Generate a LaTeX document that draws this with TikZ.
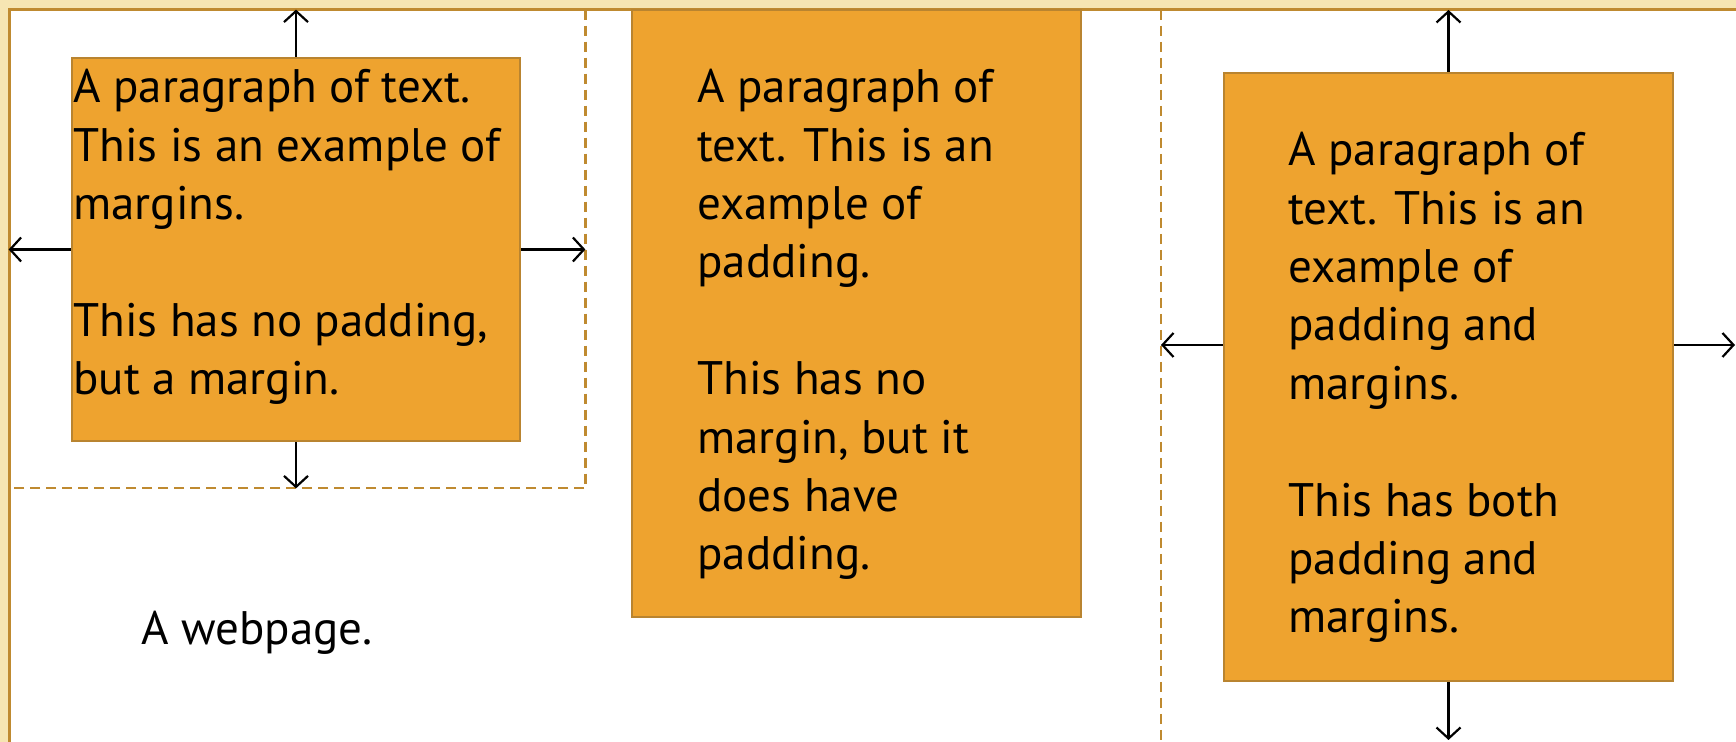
\documentclass[tikz,border=0pt]{standalone}
\usepackage{fontspec}
\setmainfont{PT Sans}
\usetikzlibrary{arrows.meta,fit}
\definecolor{cream}{HTML}{F6E5B2}
\definecolor{gold}{HTML}{BF8A30}
\definecolor{boxfill}{HTML}{EEA32F}
\definecolor{boxedge}{HTML}{B98430}
\begin{document}
\begin{tikzpicture}[x=0.5pt,y=-0.5pt]
  \tikzstyle{box}=[draw=boxedge, fill=boxfill, line width=1.1pt, inner sep=0pt]
  \tikzstyle{margin}=[draw=gold, dash pattern=on 5pt off 3pt, line width=1.1pt]
  \tikzstyle{arr}=[-{Straight Barb[length=5.5pt,width=12pt]}, line width=1.1pt]
  \tikzstyle{para}=[anchor=base west, align=left, inner sep=0pt, font=\fontsize{23.5}{29.2}\selectfont]

  \useasboundingbox (0,0) rectangle (1736,742);
  \clip (0,0) rectangle (1736,742);
  \fill[cream] (0,0) rectangle (1736,742);
  \draw[gold, line width=1.5pt, fill=white] (9,10) rectangle (1760,770);

  % margin only
  \node[inner sep=0pt, fit={(9,10) (585,488)}] (m1) {};
  \draw[margin] (m1.north east) -- (m1.south east) -- (m1.south west);
  \node[box, fit={(72,58) (520,441)}] (b1) {};
  \node[para] (t1) at (73,395) {A paragraph of text.\\ This is an example of\\ margins.\\[29.2pt] This has no padding,\\ but a margin.};
  \foreach \a in {north, south}
    \draw[arr] (b1.\a) -- (b1.\a |- m1.\a);
  \foreach \a in {west, east}
    \draw[arr] (b1.\a) -- (b1.\a -| m1.\a);

  % padding only
  \node[box, fit={(632,10) (1081,617)}] (b2) {};
  \node[para] (t2) at (697,570) {A paragraph of\\ text. This is an\\ example of\\ padding.\\[29.2pt] This has no\\ margin, but it\\ does have\\ padding.};

  % padding and margin
  \coordinate (m3nw) at (1161,10);
  \coordinate (m3se) at (1736,742);
  \coordinate (m3y) at (1161,345);
  \draw[margin] (m3nw) -- (m3nw |- m3se);
  \node[box, fit={(1224,73) (1673,681)}] (b3) {};
  \node[para] (t3) at (1288,633) {A paragraph of\\ text. This is an\\ example of\\ padding and\\ margins.\\[29.2pt] This has both\\ padding and\\ margins.};
  \draw[arr] (b3.north) -- (b3.north |- m3nw);
  \draw[arr] (b3.south) -- ([yshift=1pt]b3.south |- m3se);
  \draw[arr] (b3.west |- m3y) -- (m3y);
  \draw[arr] (b3.east |- m3y) -- ([xshift=-0.5pt]m3se |- m3y);

  \node[para] (page) at (141,645) {A webpage.};
\end{tikzpicture}
\end{document}
